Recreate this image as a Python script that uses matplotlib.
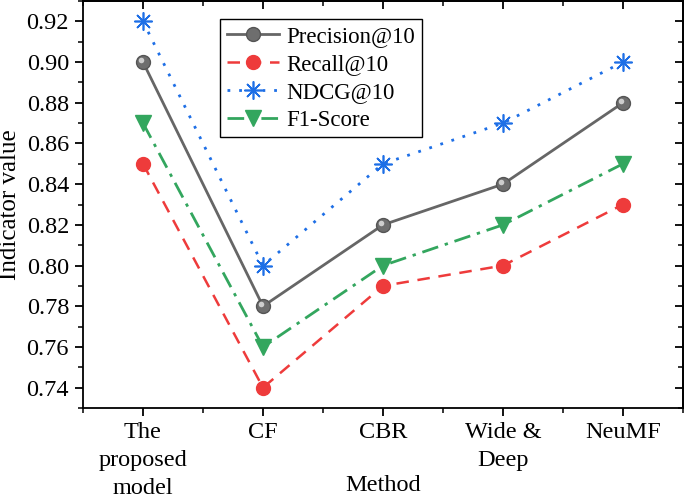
import matplotlib
matplotlib.use("Agg")
import matplotlib.pyplot as plt
from matplotlib.ticker import MultipleLocator, FixedLocator
from matplotlib.transforms import offset_copy

methods = ["The\nproposed\nmodel", "CF", "CBR", "Wide &\nDeep", "NeuMF"]
precision = [0.90, 0.78, 0.82, 0.84, 0.88]
recall = [0.85, 0.74, 0.79, 0.80, 0.83]
ndcg = [0.92, 0.80, 0.85, 0.87, 0.90]
f1 = [0.87, 0.76, 0.80, 0.82, 0.85]
yticks = [0.74, 0.76, 0.78, 0.80, 0.82, 0.84, 0.86, 0.88, 0.90, 0.92]

plt.rcParams['font.family'] = ['Liberation Serif', 'DejaVu Serif']

fig = plt.figure(figsize=(6.85, 5.01), dpi=100)
ax = fig.add_axes([83/685, 1 - 408/501, (683-83)/685, 407/501])

x = list(range(len(methods)))
ax.plot(x, precision, color='#666666', lw=2, marker='o', ms=10,
        mfc='#6e6e6e', mec='#555555', label='Precision@10', zorder=4)
# sphere highlight on the gray markers
hl = offset_copy(ax.transData, fig=fig, x=-1.5, y=1.5, units='points')
ax.plot(x, precision, ls='none', marker='o', ms=4, mfc='#d8d8d8', mec='none',
        alpha=0.9, transform=hl, zorder=5)
ax.plot(x, recall, color='#EE3B3B', lw=1.8, ls=(0, (5, 3.5)), marker='o', ms=10,
        mfc='#EE3B3B', mec='#EE3B3B', label='Recall@10', zorder=3)
ax.plot(x, ndcg, color='#1E6FE6', lw=2, ls=(0, (1, 3.2)), marker=(8, 2, 0), ms=13,
        mew=1.2, label='NDCG@10', zorder=3)
ax.plot(x, f1, color='#33A65E', lw=2, ls=(0, (6, 2.5, 1.2, 2.5)), marker='v', ms=11,
        mfc='#33A65E', mec='#33A65E', label='F1-Score', zorder=3)

ax.set_xlim(-0.5, 4.5)
ax.set_ylim(0.73, 0.93)
ax.set_xticks(x)
ax.set_xticklabels(methods, fontsize=17.5, linespacing=1.45)
ax.xaxis.set_minor_locator(FixedLocator([-0.5, 0.5, 1.5, 2.5, 3.5, 4.5]))
ax.set_yticks(yticks)
ax.set_yticklabels([f"{v:.2f}" for v in yticks], fontsize=17.5)
ax.yaxis.set_minor_locator(MultipleLocator(0.01))

ax.tick_params(which='major', direction='out', length=6, width=1.3, top=False, right=False, pad=4)
ax.tick_params(which='minor', direction='out', length=3.5, width=1.1, top=False, right=False)
axt = ax.secondary_xaxis('top')
axt.set_xticks(x)
axt.set_xticklabels([])
axt.xaxis.set_minor_locator(FixedLocator([-0.5, 0.5, 1.5, 2.5, 3.5, 4.5]))
axt.tick_params(which='major', direction='in', length=6, width=1.3)
axt.tick_params(which='minor', direction='in', length=3.5, width=1.1)
axr = ax.secondary_yaxis('right')
axr.set_yticks(yticks)
axr.set_yticklabels([])
axr.yaxis.set_minor_locator(MultipleLocator(0.01))
axr.tick_params(which='major', direction='in', length=6, width=1.3)
axr.tick_params(which='minor', direction='in', length=3.5, width=1.1)

for s in ax.spines.values():
    s.set_linewidth(1.3)
axt.spines['top'].set_linewidth(1.3)
axr.spines['right'].set_linewidth(1.3)

ax.set_xlabel("Method", fontsize=17.5)
ax.xaxis.set_label_coords(0.5, -0.165)
ax.set_ylabel("Indicator value", fontsize=18, labelpad=4)

leg = ax.legend(loc='upper left', bbox_to_anchor=(0.228, 0.956), fontsize=16.5,
                frameon=True, fancybox=False, edgecolor='black', borderaxespad=0,
                handlelength=2.3, handletextpad=0.3, labelspacing=0.3, borderpad=0.3,
                framealpha=1)
leg.get_frame().set_linewidth(1.0)

fig.savefig("out.png", dpi=100)
